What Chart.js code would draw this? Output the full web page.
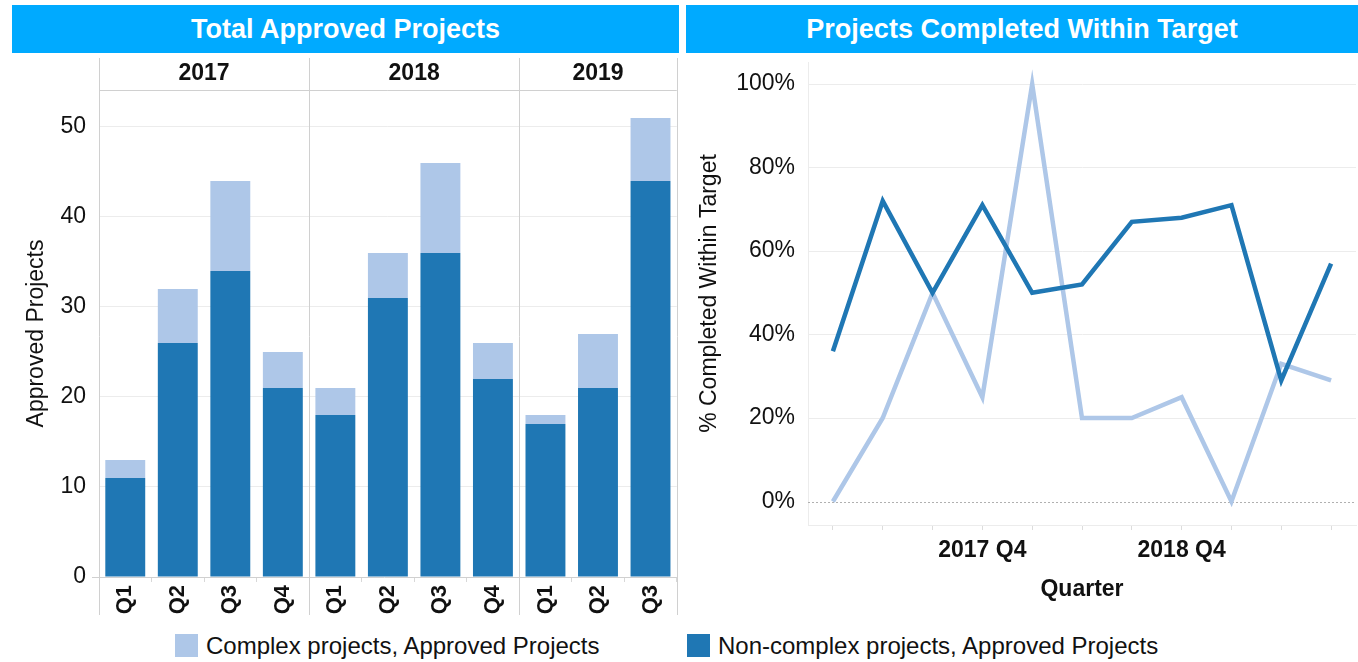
<!DOCTYPE html>
<html>
<head>
<meta charset="utf-8">
<script src="https://cdn.jsdelivr.net/npm/chart.js@4.4.1/dist/chart.umd.min.js"></script>
<style>
  body { margin: 0; background: #fff; font-family: "Liberation Sans", Arial, sans-serif; }
  .wrap { position: relative; width: 1358px; height: 662px; overflow: hidden; }
  .title-bar {
    position: absolute; top: 5px; height: 48px; background: #00aaff; color: #fff;
    font-weight: bold; font-size: 27px; line-height: 48px; text-align: center;
  }
  canvas { position: absolute; }
  .legend-item { position: absolute; top: 634px; height: 24px; font-size: 24px; line-height: 24px; color: #111; }
  .swatch { position: absolute; left: 0; top: 0; width: 23px; height: 23px; }
  .legend-item span { position: absolute; left: 31px; top: 0; white-space: nowrap; }
</style>
</head>
<body>
<div class="wrap">
  <div class="title-bar" style="left:12px; width:667px;">Total Approved Projects</div>
  <div class="title-bar" style="left:686px; width:672px;">Projects Completed Within Target</div>
  <canvas id="approved-chart" width="680" height="567" style="left:0; top:58px;"></canvas>
  <canvas id="target-chart" width="672" height="570" style="left:686px; top:55px;"></canvas>
  <div class="legend-item" style="left:175px;"><div class="swatch" style="background:#aec7e8;"></div><span>Complex projects, Approved Projects</span></div>
  <div class="legend-item" style="left:687px;"><div class="swatch" style="background:#1f77b4;"></div><span>Non-complex projects, Approved Projects</span></div>
</div>
<script>
const years = ['2017', '2018', '2019'];
const quarterLabels = ['Q1', 'Q2', 'Q3', 'Q4', 'Q1', 'Q2', 'Q3', 'Q4', 'Q1', 'Q2', 'Q3'];
const quarterYears = ['2017', '2017', '2017', '2017', '2018', '2018', '2018', '2018', '2019', '2019', '2019'];

const nonComplexApproved = [11, 26, 34, 21, 18, 31, 36, 22, 17, 21, 44];
const complexApproved = [2, 6, 10, 4, 3, 5, 10, 4, 1, 6, 7];

const nonComplexPct = [36, 72, 50, 71, 50, 52, 67, 68, 71, 29, 57];
const complexPct = [0, 20, 50, 25, 100, 20, 20, 25, 0, 33, 29];

const approvedTicks = [0, 10, 20, 30, 40, 50];
const pctTicks = [0, 20, 40, 60, 80, 100];

const DARK = '#1f77b4';
const LIGHT = '#aec7e8';
const FONT = '"Liberation Sans", Arial, sans-serif';

Chart.defaults.font.family = FONT;
Chart.defaults.color = '#111';

// year header row, year dividers and axis lines for the bar panel
const yearHeader = {
    id: 'yearHeader',
    afterDraw(chart) {
        const { ctx, chartArea, scales: { x } } = chart;
        const step = x.getPixelForValue(1) - x.getPixelForValue(0);
        const bounds = [chartArea.left];
        years.forEach(yr => {
            const last = quarterYears.lastIndexOf(yr);
            bounds.push(x.getPixelForValue(last) + step / 2);
        });

        ctx.save();
        ctx.strokeStyle = '#d0d0d0';
        ctx.lineWidth = 1;
        bounds.forEach(b => {
            const px = Math.round(b) + 0.5;
            ctx.beginPath();
            ctx.moveTo(px, 0);
            ctx.lineTo(px, 557);
            ctx.stroke();
        });
        const top = Math.round(chartArea.top) + 0.5;
        ctx.beginPath();
        ctx.moveTo(chartArea.left, top);
        ctx.lineTo(chartArea.right, top);
        ctx.stroke();
        const bottom = Math.round(chartArea.bottom) + 0.5;
        ctx.beginPath();
        ctx.moveTo(chartArea.left - 7, bottom);
        ctx.lineTo(chartArea.right, bottom);
        ctx.stroke();

        ctx.fillStyle = '#111';
        ctx.font = 'bold 23px ' + FONT;
        ctx.textAlign = 'center';
        ctx.textBaseline = 'middle';
        years.forEach((yr, i) => {
            ctx.fillText(yr, (bounds[i] + bounds[i + 1]) / 2, chartArea.top / 2);
        });
        ctx.restore();
    }
};

// dotted zero line for the line panel
const zeroLine = {
    id: 'zeroLine',
    beforeDatasetsDraw(chart) {
        const { ctx, chartArea, scales: { y } } = chart;
        const py = Math.round(y.getPixelForValue(0)) + 0.5;
        ctx.save();
        ctx.strokeStyle = '#b0b0b0';
        ctx.lineWidth = 1;
        ctx.setLineDash([2, 2]);
        ctx.beginPath();
        ctx.moveTo(chartArea.left, py);
        ctx.lineTo(chartArea.right, py);
        ctx.stroke();
        ctx.restore();
    }
};

new Chart(document.getElementById('approved-chart'), {
    type: 'bar',
    data: {
        labels: quarterLabels,
        datasets: [{
            label: 'Non-complex projects, Approved Projects',
            data: nonComplexApproved,
            backgroundColor: DARK,
        }, {
            label: 'Complex projects, Approved Projects',
            data: complexApproved,
            backgroundColor: LIGHT,
        }],
    },
    options: {
        responsive: false,
        animation: false,
        layout: { padding: { top: 32, right: 2, left: 0, bottom: 0 } },
        datasets: { bar: { barPercentage: 0.76, categoryPercentage: 1 } },
        plugins: { legend: { display: false }, tooltip: { enabled: false } },
        scales: {
            x: {
                stacked: true,
                border: { display: false },
                grid: { drawOnChartArea: false, tickLength: 5, color: '#d8d8d8' },
                ticks: {
                    minRotation: 90, maxRotation: 90, padding: 3,
                    font: { size: 22, weight: 'bold' }, color: '#111',
                },
                afterFit: s => { s.height = 48; },
            },
            y: {
                stacked: true,
                min: 0,
                max: 54.1,
                border: { display: false },
                grid: {
                    drawTicks: false,
                    color: ctx => ctx.tick.value === 0 ? 'transparent' : '#ececec',
                },
                ticks: { padding: 13, font: { size: 23 }, color: '#111' },
                afterBuildTicks: s => { s.ticks = approvedTicks.map(v => ({ value: v })); },
                title: {
                    display: true, text: 'Approved Projects',
                    font: { size: 23 }, color: '#111', padding: { top: 23, bottom: 0 },
                },
                afterFit: s => { s.width = 99; s.paddingTop = 0; s.paddingBottom = 0; },
            },
        },
    },
    plugins: [yearHeader],
});

new Chart(document.getElementById('target-chart'), {
    type: 'line',
    data: {
        labels: quarterYears.map((yr, i) => yr + ' ' + quarterLabels[i]),
        datasets: [{
            label: 'Non-complex projects',
            data: nonComplexPct,
            borderColor: DARK,
            borderWidth: 4.5,
            pointRadius: 0,
            tension: 0,
        }, {
            label: 'Complex projects',
            data: complexPct,
            borderColor: LIGHT,
            borderWidth: 4.5,
            pointRadius: 0,
            tension: 0,
        }],
    },
    options: {
        responsive: false,
        animation: false,
        layout: { padding: { top: 7, right: 2, left: 0, bottom: 0 } },
        plugins: { legend: { display: false }, tooltip: { enabled: false } },
        scales: {
            x: {
                offset: true,
                border: { color: '#ececec' },
                grid: { offset: false, drawOnChartArea: false, tickLength: 5, color: '#dcdcdc' },
                ticks: {
                    autoSkip: false, maxRotation: 0, padding: 7,
                    font: { size: 23, weight: 'bold' }, color: '#111',
                    callback: function (v) {
                        const lbl = this.getLabelForValue(v);
                        return lbl.endsWith('Q4') ? lbl : '';
                    },
                },
                title: {
                    display: true, text: 'Quarter',
                    font: { size: 23, weight: 'bold' }, color: '#111', padding: { top: 0, bottom: 22 },
                },
                afterFit: s => { s.height = 100; s.paddingLeft = 0; s.paddingRight = 0; },
            },
            y: {
                min: -5.63,
                max: 105.3,
                border: { color: '#ececec' },
                grid: {
                    drawTicks: false,
                    color: ctx => ctx.tick.value === 0 ? 'transparent' : '#ececec',
                },
                ticks: { padding: 13, font: { size: 23 }, color: '#111', callback: v => v + '%' },
                afterBuildTicks: s => { s.ticks = pctTicks.map(v => ({ value: v })); },
                title: {
                    display: true, text: '% Completed Within Target',
                    font: { size: 23 }, color: '#111', padding: { top: 10, bottom: 0 },
                },
                afterFit: s => { s.width = 122; s.paddingTop = 0; s.paddingBottom = 0; },
            },
        },
    },
    plugins: [zeroLine],
});
</script>
</body>
</html>
